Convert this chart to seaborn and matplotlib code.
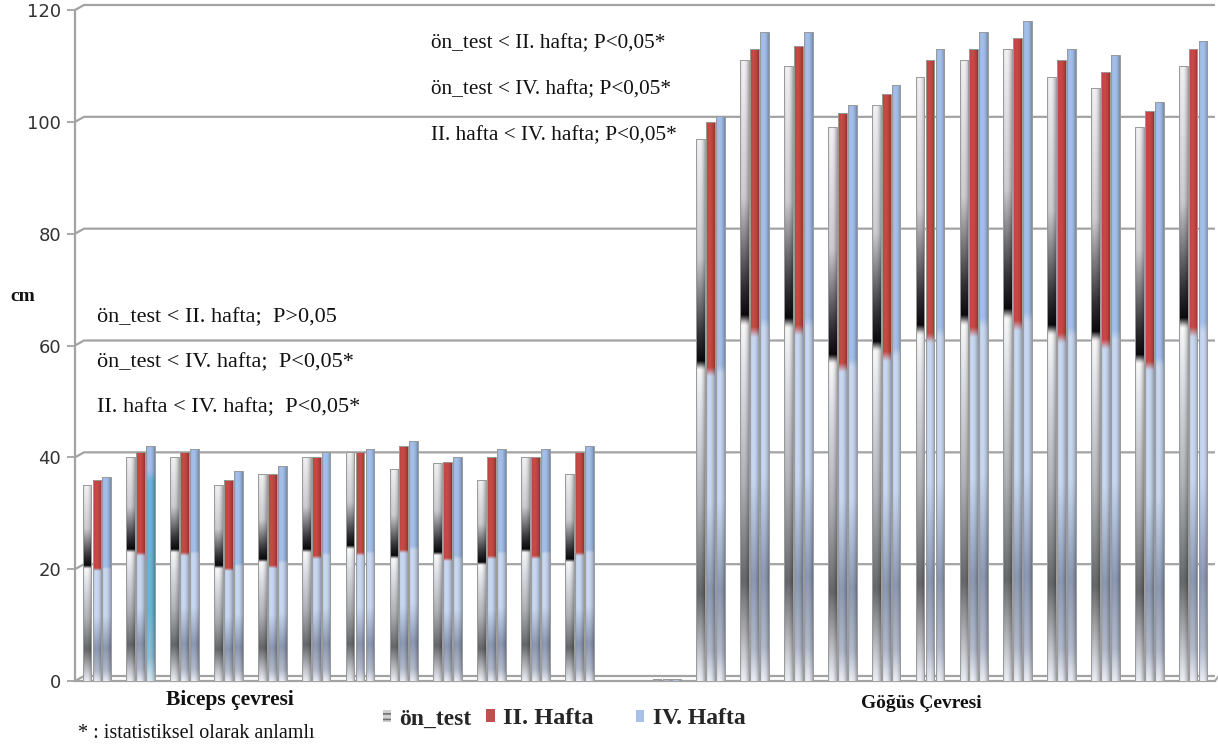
import numpy as np
import pandas as pd
import matplotlib
matplotlib.use("Agg")
import matplotlib.pyplot as plt
import seaborn as sns
from matplotlib.patches import Patch

# ---- data -------------------------------------------------------------
series = ["ön_test", "II. Hafta", "IV. Hafta"]

biceps_on_test = [35, 40, 40, 35, 37, 40, 41, 38, 39, 36, 40, 37]
biceps_week2 = [36, 41, 41, 36, 37, 40, 41, 42, 39.2, 40, 40, 41]
biceps_week4 = [36.5, 42, 41.5, 37.5, 38.5, 41, 41.5, 43, 40, 41.5, 41.5, 42]

chest_on_test = [0.3, 97, 111, 110, 99, 103, 108, 111, 113, 108, 106, 99, 110]
chest_week2 = [0.3, 100, 113, 113.5, 101.5, 105, 111, 113, 115, 111, 109, 102, 113]
chest_week4 = [0.3, 101, 116, 116, 103, 106.5, 113, 116, 118, 113, 112, 103.5, 114.5]

group_labels = ["Biceps çevresi", "Göğüs Çevresi"]
biceps_notes = ["ön_test < II. hafta;  P>0,05",
                "ön_test < IV. hafta;  P<0,05*",
                "II. hafta < IV. hafta;  P<0,05*"]
chest_notes = ["ön_test < II. hafta; P<0,05*",
               "ön_test < IV. hafta; P<0,05*",
               "II. hafta < IV. hafta; P<0,05*"]
footnote = "* : istatistiksel olarak anlamlı"
y_label = "cm"
y_ticks = [0, 20, 40, 60, 80, 100, 120]

# slot positions along the category axis: 12 biceps, one blank, 13 chest
biceps_slots = list(range(0, 12))
chest_slots = list(range(13, 26))
all_slots = list(range(26))

rows = []
for slots, cols in ((biceps_slots, (biceps_on_test, biceps_week2, biceps_week4)),
                    (chest_slots, (chest_on_test, chest_week2, chest_week4))):
    for i, slot in enumerate(slots):
        for name, col in zip(series, cols):
            rows.append((slot, name, col[i]))
df = pd.DataFrame(rows, columns=["slot", "series", "cm"])

# ---- figure -----------------------------------------------------------
W, H = 1218, 746
sns.set_theme(style="white")
plt.rcParams["font.family"] = ["DejaVu Sans"]
serif = ["Liberation Serif", "DejaVu Serif"]

fig = plt.figure(figsize=(W / 100, H / 100), dpi=100)
fig.patch.set_facecolor("white")
L, R, B, T = 75, 1215, 681, 3
ax = fig.add_axes([L / W, 1 - B / H, (R - L) / W, (B - T) / H])

palette = ["#e6e6e6", "#c0504d", "#a9c1e8"]
sns.barplot(data=df, x="slot", y="cm", hue="series", order=all_slots,
            hue_order=series, palette=palette, width=0.68, saturation=1,
            edgecolor="#9a9a9a", linewidth=0.7, legend=False, ax=ax)

px_per_unit = (B - 10) / 120.0
y_top = 120 + (10 - T) / px_per_unit
x_lo, x_hi = -0.5, 25.5


def ramp(t, stops):
    ts = [s[0] for s in stops]
    out = np.zeros((t.size, 3))
    for c in range(3):
        out[:, c] = np.interp(t, ts, [s[1][c] for s in stops])
    return out


def bar_image(kind, cyan=False):
    n, m = 240, 24
    t = np.linspace(0, 1, n)
    u = np.linspace(-1, 1, m)
    shade = np.clip(1 - 0.28 * ((u + 0.25) / 1.25) ** 2, 0.7, 1)
    if kind == 0:
        g = lambda v: (v * 0.96, v * 0.97, v)
        stops = [(0.0, g(0.97)), (0.05, g(0.8)), (0.16, g(0.42)),
                 (0.32, g(0.72)), (0.5, g(0.92)), (0.575, (0.98, 0.98, 0.98)),
                 (0.59, (0.04, 0.04, 0.05)), (0.64, (0.2, 0.2, 0.22)),
                 (0.78, (0.8, 0.8, 0.82)), (1.0, (0.95, 0.95, 0.96))]
    else:
        low = (0.40, 0.72, 0.84) if cyan else (0.79, 0.85, 0.95)
        top = (0.78, 0.29, 0.27) if kind == 1 else (0.64, 0.75, 0.92)
        stops = [(0.0, (0.92, 0.93, 0.96)), (0.05, (0.7, 0.73, 0.8)),
                 (0.16, (0.55, 0.6, 0.7)), (0.32, low), (0.545, low),
                 (0.56, top), (1.0, top)]
        if cyan:
            stops = [(0.0, (0.85, 0.92, 0.95)), (0.1, (0.55, 0.75, 0.85)),
                     (0.3, low), (0.85, low), (0.9, (0.64, 0.75, 0.92)),
                     (1.0, (0.64, 0.75, 0.92))]
    col = ramp(t, stops)
    img = col[:, None, :] * shade[None, :, None]
    return np.clip(img, 0, 1)


for k, cont in enumerate(ax.containers):
    for j, patch in enumerate(cont.patches):
        h = patch.get_height()
        if not np.isfinite(h) or h <= 0:
            continue
        # thin cylinders with a small gap between neighbours
        w0 = patch.get_width()
        cx = patch.get_x() + w0 / 2
        w = w0 * 0.88
        patch.set_x(cx - w / 2)
        patch.set_width(w)
        x0 = cx - w / 2
        cyan = (k == 2 and abs(cx - 1.227) < 0.05)
        im = ax.imshow(bar_image(k, cyan), extent=(x0, x0 + w, 0, h),
                       origin="lower", aspect="auto", interpolation="bilinear",
                       zorder=patch.get_zorder() - 0.1)
        im.set_clip_path(patch)
        patch.set_facecolor("none")

# back-wall gridlines with the short slanted join to the axis
grid_c = "#a3a3a3"
dy = 5 / px_per_unit
dx = 9 / ((R - L) / (x_hi - x_lo))
for v in y_ticks:
    ax.plot([x_lo, x_lo + dx, x_hi], [v, v + dy, v + dy], color=grid_c,
            lw=1.6, zorder=0.5, clip_on=False, solid_capstyle="butt")
ax.plot([x_lo, x_hi], [0, 0], color=grid_c, lw=1.6, zorder=0.5,
        clip_on=False)
ax.plot([x_hi, x_hi + dx * 0.4], [0, dy], color=grid_c, lw=1.4,
        zorder=0.5, clip_on=False)

ax.set_xlim(x_lo, x_hi)
ax.set_ylim(0, y_top)
ax.set_yticks(y_ticks)
ax.set_yticklabels([str(v) for v in y_ticks], fontsize=13, color="#333333")
ax.set_xticks([])
ax.set_xlabel("")
ax.set_ylabel("")
for s in ("top", "right", "bottom"):
    ax.spines[s].set_visible(False)
ax.spines["left"].set_bounds(0, 120)
ax.spines["left"].set_color(grid_c)
ax.spines["left"].set_linewidth(1.6)
ax.tick_params(axis="y", length=6, width=1.3, color=grid_c, pad=4,
               left=True, direction="out")


def fp(x, y):
    return x / W, 1 - y / H


ink = "#111111"
fig.text(*fp(10, 297), y_label, fontsize=14, fontweight="bold",
         family=serif, color=ink, va="center", ha="left")

for i, s in enumerate(biceps_notes):
    fig.text(*fp(97, 318 + 45 * i), s, fontsize=16, family=serif,
             color=ink, va="center", ha="left")
for i, s in enumerate(chest_notes):
    fig.text(*fp(431, 44 + 46 * i), s, fontsize=15.3, family=serif,
             color=ink, va="center", ha="left")

fig.text(*fp(230, 700), group_labels[0], fontsize=15.5, fontweight="bold",
         family=serif, color=ink, va="center", ha="center")
fig.text(*fp(921, 703), group_labels[1], fontsize=14, fontweight="bold",
         family=serif, color=ink, va="center", ha="center")
fig.text(*fp(78, 733), footnote, fontsize=14.5, family=serif, color=ink,
         va="center", ha="left")

# legend: one entry per series, placed along the bottom row
plt.rcParams["hatch.linewidth"] = 1.2
handles = [Patch(facecolor="#d0d0d0", edgecolor="#6f6f6f", hatch="---",
                 linewidth=0),
           Patch(facecolor="#c0504d", edgecolor="none"),
           Patch(facecolor="#a9c1e8", edgecolor="none")]
legend_x = [383, 486, 636]
legend_size = [17, 17.5, 17]
for hnd, name, lx, sz in zip(handles, series, legend_x, legend_size):
    fig.legend([hnd], [name], loc="center left", bbox_to_anchor=fp(lx, 719),
               frameon=False, handlelength=0.35, handleheight=0.45,
               handletextpad=0.35, borderpad=0, borderaxespad=0,
               prop={"family": serif, "weight": "bold", "size": sz})

fig.savefig("out.png", dpi=100, facecolor="white")
